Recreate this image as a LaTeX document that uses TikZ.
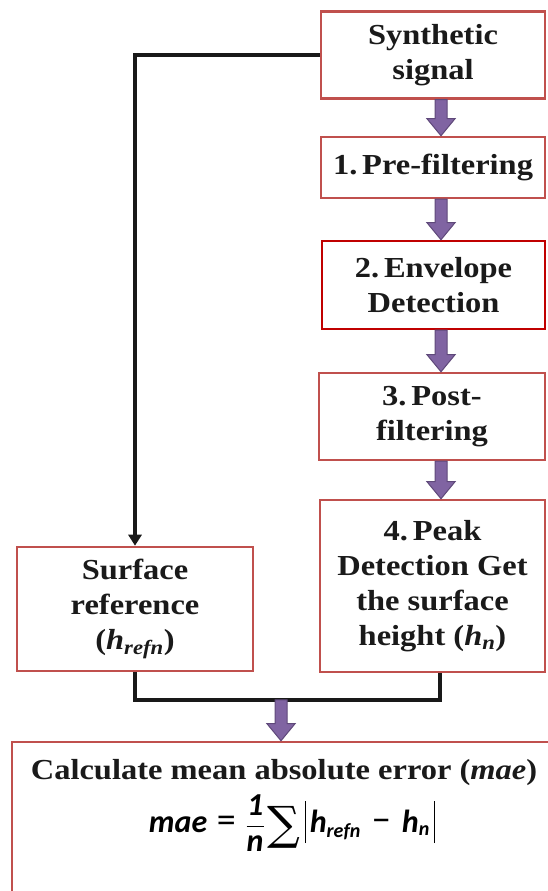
\documentclass[tikz,border=0pt]{standalone}
\usepackage{fontspec}
\setmainfont[FakeStretch=1.12]{Liberation Serif}
\newfontfamily\carl{Carlito}
\newfontfamily\sumfont{DejaVu Serif}
\usetikzlibrary{arrows.meta,calc}
\definecolor{boxred}{HTML}{C0504D}
\definecolor{darkred}{HTML}{C00000}
\definecolor{pfill}{HTML}{8064A2}
\definecolor{pedge}{HTML}{5F497A}
\definecolor{txt}{HTML}{1A1A1A}
\newcommand\cv[1]{\mbox{\carl\bfseries\itshape #1}}
\newcommand\cop[1]{\mbox{\carl\fontsize{38}{38}\selectfont #1}}
\newcommand\subfs{\fontsize{20}{22}\selectfont}
\newcommand\absbar{\vrule width 1.1pt height 31pt depth 11pt}
\newcommand\barrow[3]{\draw[parrow] let \p1=(#1), \p2=(#2) in
  (#3-6,\y1) -- (#3+6,\y1) -- (#3+6,\y2+17pt) -- (#3+14,\y2+17pt) -- (#3,\y2)
  -- (#3-14,\y2+17pt) -- (#3-6,\y2+17pt) -- cycle;}
\tikzset{
  stepbox/.style={draw=boxred, line width=2.5pt, fill=white, text=txt, align=center,
    font=\fontsize{29}{35}\selectfont\bfseries, inner sep=0pt},
  parrow/.style={fill=pfill, draw=pedge, line width=1pt},
  bline/.style={draw=black!90, line width=3.8pt},
}
\begin{document}
\begin{tikzpicture}[x=1pt,y=1pt]
\useasboundingbox (0,0) rectangle (547,891);
\node[stepbox, minimum width=224, minimum height=87] (syn) at (433,836) {Synthetic\\signal};
\node[stepbox, minimum width=224, minimum height=61] (pre) at (433,723.5) {1.\,Pre-filtering};
\node[stepbox, draw=darkred, minimum width=223, minimum height=88] (env) at (433.5,606) {2.\,Envelope\\Detection};
\node[stepbox, minimum width=226, minimum height=87] (post) at (432,474.5) {3.\,Post-\\filtering};
\node[stepbox, minimum width=225, minimum height=172] (peak) at (432.5,305) {4.\,Peak\\Detection Get\\the surface\\height (\textit{h}\textsubscript{\textit{n}})};
\node[stepbox, minimum width=236, minimum height=124] (surf) at (135,282) {Surface\\reference\\(\textit{h}\textsubscript{\textit{refn}})};
\node[stepbox, minimum width=553, minimum height=159] (mae) at (288.5,69.5) {};
\node[text=txt, font=\fontsize{29}{35}\selectfont\bfseries] (calc) at (284,118) {Calculate mean absolute error (\textit{mae})};
\node[text=black, font=\fontsize{32}{36}\selectfont] (form) at (292,68)
  {$\displaystyle \cv{mae}\mkern7mu\cop{=}\mkern7mu\frac{\cv{1}\rule[-4pt]{0pt}{4pt}}{\rule{0pt}{24pt}\cv{n}}\mkern2mu
   \raisebox{-7pt}{\sumfont\fontsize{46}{46}\selectfont ∑}\mkern3mu\absbar\mkern3mu
   \cv{h}_{\cv{\subfs refn}}\mkern8mu\cop{−}\mkern8mu\cv{h}_{\cv{\subfs n}}\mkern3mu\absbar$};
\coordinate (jl) at (135,191);
\coordinate (jm) at (281,191);
\coordinate (jr) at (440,191);
\draw[bline, -{Triangle[width=13pt,length=11pt]}] (syn.west) -| (surf.north);
\draw[bline] (surf.south) -- (jl) -- (jr) -- (jr |- peak.south);
\barrow{syn.south}{pre.north}{441}
\barrow{pre.south}{env.north}{441}
\barrow{env.south}{post.north}{441}
\barrow{post.south}{peak.north}{441}
\barrow{jm}{mae.north}{281}
\end{tikzpicture}
\end{document}
